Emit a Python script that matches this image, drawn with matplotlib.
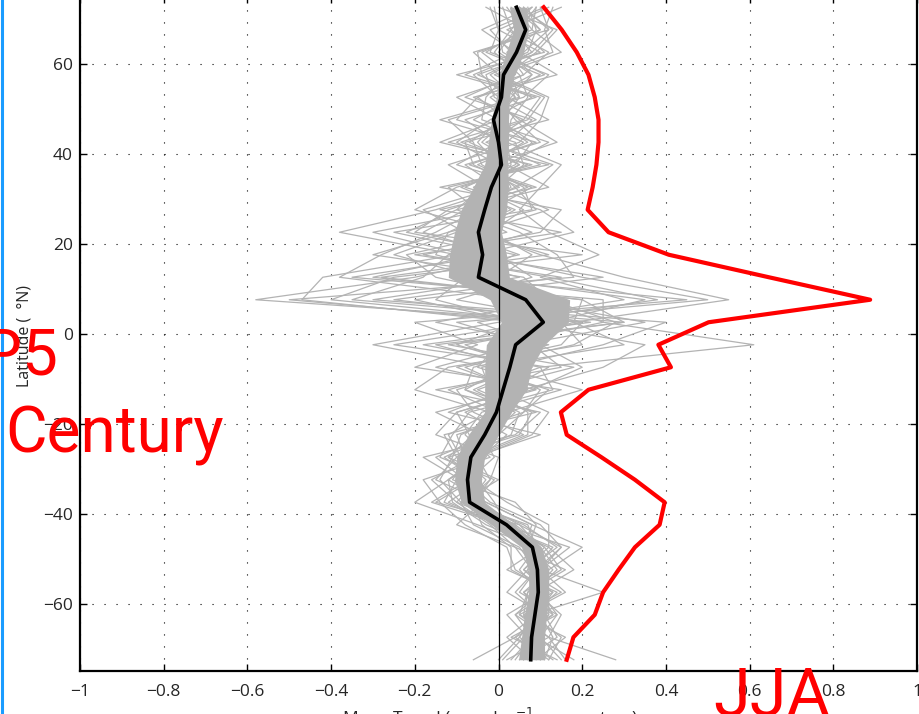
import numpy as np
import matplotlib
matplotlib.use("Agg")
import matplotlib.pyplot as plt
from matplotlib.lines import Line2D

# latitudes (S -> N)
lat = [-72.5, -67.5, -62.5, -57.5, -52.5, -47.5, -42.5, -37.5, -32.5, -27.5,
       -22.5, -17.5, -12.5, -7.5, -2.5, 2.5, 7.5, 12.5, 17.5, 22.5,
       27.5, 32.5, 37.5, 42.5, 47.5, 52.5, 57.5, 62.5, 67.5, 72.5]

# multi-model mean
mean_trend = [0.077, 0.079, 0.087, 0.095, 0.093, 0.081, 0.019, -0.069, -0.074, -0.066,
              -0.033, -0.005, 0.011, 0.027, 0.041, 0.107, 0.065, -0.048, -0.038, -0.048,
              -0.033, -0.017, 0.007, 0.0, -0.012, 0.007, 0.012, 0.043, 0.065, 0.043]

# shaded spread around the mean
band_lo = [0.048, 0.055, 0.062, 0.072, 0.072, 0.055, -0.017, -0.089, -0.105, -0.100,
           -0.072, -0.033, -0.033, -0.033, -0.029, 0.007, -0.02, -0.12, -0.117, -0.105,
           -0.089, -0.06, -0.033, -0.024, -0.017, -0.005, 0.002, 0.019, 0.036, 0.026]
band_hi = [0.110, 0.110, 0.115, 0.120, 0.120, 0.103, 0.038, -0.033, -0.041, -0.033,
           0.0, 0.031, 0.067, 0.079, 0.110, 0.167, 0.170, 0.026, 0.019, 0.007,
           0.019, 0.024, 0.022, 0.024, 0.024, 0.026, 0.038, 0.060, 0.072, 0.067]

# red curve
red_trend = [0.163, 0.179, 0.230, 0.250, 0.287, 0.326, 0.385, 0.397, 0.326, 0.246,
             0.163, 0.149, 0.215, 0.412, 0.382, 0.502, 0.888, 0.646, 0.407, 0.263,
             0.213, 0.225, 0.234, 0.239, 0.239, 0.230, 0.215, 0.187, 0.151, 0.108]

# individual models
models = [
    [0.10, 0.06, 0.12, 0.08, 0.14, 0.10, 0.05, -0.05, -0.10, -0.04, 0.02, -0.08, 0.05, -0.10, 0.15, 0.20, -0.58, -0.20, 0.05, -0.10, 0.03, -0.06, 0.05, -0.04, 0.02, -0.05, 0.06, 0.02, 0.10, 0.05],
    [0.05, 0.10, 0.07, 0.12, 0.08, 0.04, -0.02, -0.10, -0.05, -0.12, 0.05, 0.08, -0.05, 0.10, 0.61, 0.25, 0.10, -0.15, -0.22, 0.02, -0.08, 0.04, -0.03, 0.06, -0.06, 0.04, -0.02, 0.08, 0.03, 0.08],
    [0.28, 0.12, 0.05, 0.15, 0.06, 0.12, 0.00, -0.12, -0.04, -0.08, -0.10, 0.06, 0.12, -0.05, 0.00, 0.18, 0.55, 0.30, 0.10, -0.05, 0.12, 0.00, -0.08, 0.10, 0.04, 0.00, 0.10, -0.03, 0.06, 0.02],
    [-0.06, 0.04, 0.10, 0.06, 0.12, 0.20, 0.08, -0.03, -0.15, -0.10, -0.05, 0.00, -0.12, 0.08, -0.10, 0.05, -0.47, -0.42, -0.10, -0.38, -0.15, 0.02, 0.00, -0.10, -0.02, 0.08, -0.05, 0.10, 0.00, -0.02],
    [0.12, 0.15, 0.08, 0.25, 0.10, 0.06, 0.04, -0.06, -0.02, 0.00, -0.15, -0.10, 0.08, 0.20, 0.10, -0.05, 0.30, 0.10, 0.24, 0.12, 0.05, 0.10, 0.15, 0.02, 0.08, -0.08, 0.04, 0.06, 0.12, 0.10],
    [0.03, 0.08, 0.04, 0.10, 0.05, 0.09, -0.05, -0.20, -0.12, -0.05, 0.08, 0.12, 0.00, 0.05, -0.15, 0.30, 0.20, -0.30, -0.05, 0.00, -0.20, -0.10, 0.08, -0.14, 0.00, 0.03, 0.08, 0.00, 0.04, 0.06],
    [0.15, 0.10, 0.14, 0.05, 0.09, 0.15, 0.10, -0.02, -0.08, -0.15, -0.02, 0.04, -0.08, 0.02, 0.25, 0.40, -0.30, 0.05, -0.15, -0.12, 0.00, -0.03, -0.12, 0.05, 0.10, 0.12, 0.00, 0.15, 0.08, 0.04],
    [0.08, 0.02, 0.09, 0.13, 0.04, 0.02, -0.08, -0.14, -0.18, -0.02, -0.08, -0.04, 0.15, -0.20, -0.05, -0.20, 0.45, -0.10, 0.00, -0.25, 0.08, 0.06, -0.04, -0.06, -0.12, 0.06, 0.12, -0.02, 0.00, 0.12],
    [0.02, 0.12, 0.15, 0.09, 0.18, 0.12, 0.12, 0.02, -0.06, -0.06, 0.10, -0.12, 0.02, 0.12, -0.25, 0.10, -0.50, 0.18, 0.14, 0.05, -0.10, 0.12, 0.02, 0.12, -0.04, -0.03, 0.02, 0.09, 0.14, 0.00],
    [0.10, 0.07, 0.02, 0.11, 0.12, 0.08, 0.03, -0.09, 0.00, -0.12, -0.06, 0.02, 0.20, 0.00, 0.05, 0.35, 0.05, -0.38, -0.28, -0.15, -0.05, -0.12, 0.10, -0.02, 0.06, 0.10, -0.08, 0.04, -0.04, 0.08],
    [0.18, 0.09, 0.06, 0.07, 0.16, 0.04, -0.10, -0.04, -0.09, -0.18, 0.04, 0.10, -0.15, 0.15, 0.08, -0.10, 0.50, 0.20, -0.05, 0.18, 0.10, -0.08, 0.04, 0.08, 0.00, -0.10, 0.06, 0.12, 0.02, 0.15],
    [0.06, 0.14, 0.11, 0.02, 0.07, 0.14, 0.06, -0.07, -0.03, -0.09, -0.12, -0.02, -0.20, -0.12, 0.20, 0.15, -0.40, -0.25, 0.20, -0.20, -0.12, 0.05, -0.06, -0.08, 0.12, 0.02, -0.04, -0.05, 0.10, 0.03],
    [0.00, 0.05, 0.08, 0.14, 0.02, 0.10, -0.03, -0.11, -0.12, -0.03, 0.00, 0.06, 0.10, -0.02, -0.30, 0.00, 0.38, 0.12, -0.18, 0.10, 0.15, -0.14, 0.12, -0.12, 0.06, -0.06, 0.14, 0.05, 0.07, -0.03],
    [0.14, 0.03, 0.13, 0.10, 0.10, 0.17, 0.01, -0.16, -0.07, -0.01, -0.04, -0.15, 0.06, 0.25, 0.35, 0.05, -0.20, 0.25, -0.08, -0.30, -0.02, 0.08, -0.10, 0.00, -0.08, 0.09, -0.10, 0.11, 0.05, 0.09],
    [0.07, 0.11, 0.07, 0.08, 0.13, 0.07, 0.09, 0.04, -0.11, -0.07, 0.06, -0.06, -0.10, 0.08, 0.00, 0.25, 0.25, -0.35, 0.00, -0.08, -0.18, 0.00, 0.06, 0.04, -0.14, 0.05, 0.00, -0.06, 0.12, 0.06],
    [0.11, 0.13, 0.10, 0.04, 0.09, 0.05, -0.06, -0.09, -0.14, -0.11, -0.09, 0.03, 0.04, -0.08, 0.12, -0.15, 0.15, 0.00, 0.08, -0.02, 0.06, -0.05, -0.02, 0.14, 0.05, -0.02, 0.08, 0.03, -0.02, 0.11],
    [0.04, 0.08, 0.12, 0.12, 0.06, 0.11, 0.02, -0.01, -0.05, -0.13, -0.01, 0.00, -0.03, 0.18, -0.12, 0.30, -0.35, -0.18, -0.12, 0.08, -0.06, 0.03, 0.00, -0.05, 0.00, 0.00, -0.06, 0.07, 0.09, 0.07],
    [0.09, 0.16, 0.05, 0.07, 0.11, 0.09, 0.07, -0.08, -0.02, -0.05, -0.07, -0.10, 0.09, -0.15, 0.05, 0.12, 0.35, -0.05, -0.25, -0.10, 0.02, -0.02, 0.03, 0.02, 0.03, 0.07, 0.05, -0.01, 0.03, 0.01],
    [0.13, 0.05, 0.09, 0.11, 0.08, 0.13, 0.00, -0.13, -0.10, -0.08, 0.03, 0.05, -0.06, 0.06, -0.08, 0.20, -0.10, 0.08, 0.00, -0.18, -0.08, 0.07, -0.05, 0.07, -0.01, 0.04, 0.01, 0.04, 0.06, 0.04],
    [0.08, 0.10, 0.11, 0.09, 0.07, 0.08, 0.03, -0.05, -0.08, -0.09, -0.03, -0.02, 0.00, 0.04, 0.02, 0.10, 0.00, -0.10, -0.02, -0.05, -0.03, -0.01, 0.01, 0.01, 0.00, 0.01, 0.02, 0.04, 0.06, 0.04],
    [0.01, 0.06, 0.13, 0.06, 0.15, 0.11, 0.04, -0.10, -0.16, -0.06, 0.07, 0.07, -0.02, -0.04, 0.30, 0.18, 0.20, -0.28, 0.12, -0.06, 0.04, -0.09, 0.07, -0.09, 0.07, 0.11, -0.01, 0.13, 0.11, 0.13],
    [0.16, 0.12, 0.04, 0.13, 0.03, 0.03, -0.04, -0.06, -0.01, -0.14, -0.11, -0.07, 0.13, 0.10, -0.18, 0.22, -0.25, 0.15, -0.20, 0.15, -0.14, 0.09, -0.07, 0.09, -0.10, -0.05, 0.11, 0.01, 0.00, -0.01],
    [0.06, 0.09, 0.06, 0.16, 0.10, 0.15, 0.05, -0.15, -0.06, -0.10, -0.13, 0.09, -0.08, -0.06, 0.18, 0.28, 0.12, 0.06, -0.30, -0.12, 0.09, 0.04, 0.13, -0.03, 0.09, -0.01, -0.03, 0.08, 0.13, 0.05],
    [0.12, 0.04, 0.14, 0.10, 0.11, 0.06, 0.08, -0.03, -0.12, -0.04, -0.05, -0.03, 0.07, 0.02, 0.10, 0.06, -0.15, -0.08, 0.04, -0.22, -0.10, -0.04, 0.05, -0.07, 0.01, 0.05, 0.03, -0.04, 0.08, 0.09],
]

xticks = [-1, -0.8, -0.6, -0.4, -0.2, 0, 0.2, 0.4, 0.6, 0.8, 1]
xtick_labels = ["\u22121", "\u22120.8", "\u22120.6", "\u22120.4", "\u22120.2", "0",
                "0.2", "0.4", "0.6", "0.8", "1"]
yticks = [-60, -40, -20, 0, 20, 40, 60]
ytick_labels = ["\u221260", "\u221240", "\u221220", "0", "20", "40", "60"]

W, H = 919, 714
fig = plt.figure(figsize=(W / 100, H / 100), dpi=100)
ax = fig.add_axes([80 / W, 43 / H, 837 / W, 675 / H])

gray = (0.70, 0.70, 0.70)
for m in models:
    ax.plot(m, lat, color=gray, lw=0.9, zorder=2)
ax.fill_betweenx(lat, band_lo, band_hi, color=gray, lw=0, zorder=3)
ax.axvline(0, color="k", lw=0.9, zorder=4)
ax.plot(mean_trend, lat, color="k", lw=2.6, zorder=5)
ax.plot(red_trend, lat, color="red", lw=3.0, zorder=6)

ax.set_xlim(-1, 1)
ax.set_ylim(-75, 75)
ax.set_xticks(xticks)
ax.set_xticklabels(xtick_labels)
ax.set_yticks(yticks)
ax.set_yticklabels(ytick_labels)
ax.grid(True, color="k", linestyle=(0, (1, 9.8)), linewidth=0.8)
ax.tick_params(direction="in", length=5, width=1, top=True, right=True,
               labelsize=12.5, labelcolor="#262626")
ax.tick_params(axis="x", pad=9)
ax.tick_params(axis="y", pad=5)
for lab in ax.get_xticklabels() + ax.get_yticklabels():
    lab.set_family(["Open Sans", "DejaVu Sans"])
for s in ax.spines.values():
    s.set_linewidth(1.6)

fig.text(25 / W, 1 - 336 / H, "Latitude (  \u00b0N)", rotation=90, ha="center", va="center",
         fontsize=11.5, color="#262626", family=["Open Sans", "DejaVu Sans"])
fig.text(490 / W, 1 - 706 / H, "Mean Trend (mm day$^{-1}$ per century)", ha="center", va="top",
         fontsize=12.5, color="#262626", family=["Open Sans", "DejaVu Sans"])

# red texts from neighbouring panels
fig.text(58 / W, 1 - 376 / H, "CMIP5", ha="right", va="baseline", fontsize=46,
         color="red", family=["Roboto", "DejaVu Sans"])
fig.text(5 / W, 1 - 452 / H, "Century", ha="left", va="baseline", fontsize=46,
         color="red", family=["Roboto", "DejaVu Sans"])
fig.text(772 / W, 1 - 716 / H, "JJA", ha="center", va="baseline", fontsize=48,
         color="red", family=["Roboto", "DejaVu Sans"])

fig.add_artist(Line2D([1.5 / W, 1.5 / W], [0, 1], color="#1a9cff", lw=2.2))

fig.savefig("out.png", dpi=100)
